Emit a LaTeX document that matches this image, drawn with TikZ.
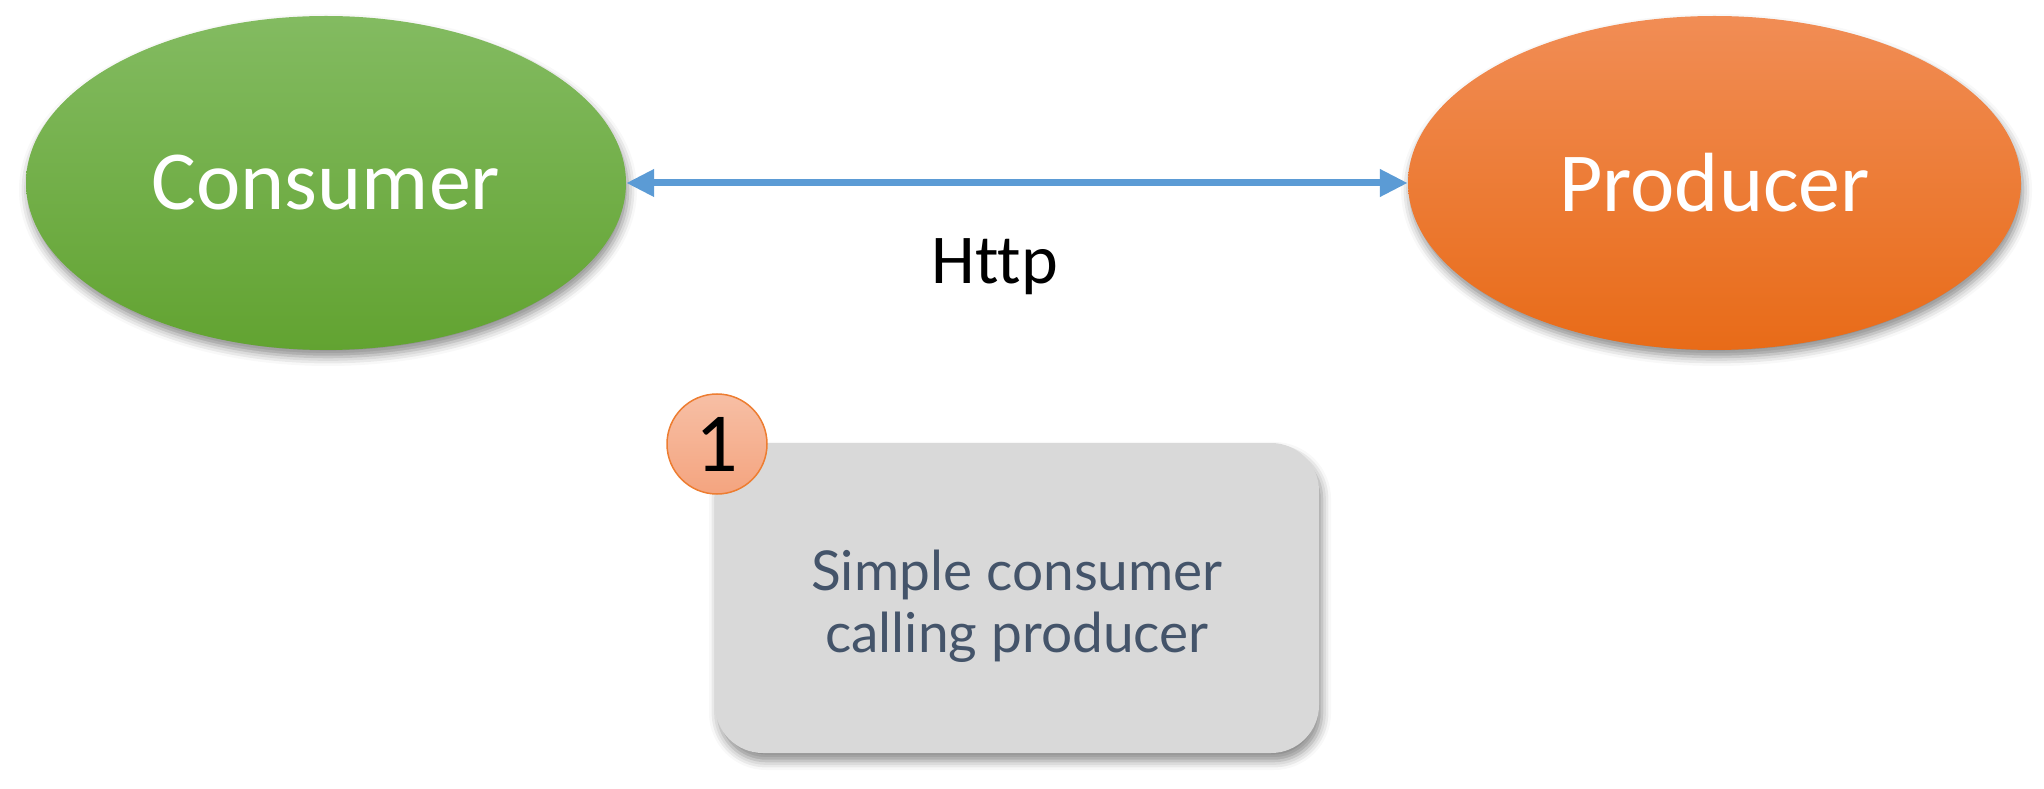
\documentclass[tikz,border=0pt]{standalone}
\usepackage{fontspec}
\setmainfont{Carlito}[Ligatures=NoCommon]
\newfontfamily\notefont{Lato}
\usetikzlibrary{shapes.geometric,shadows.blur,arrows.meta}

\definecolor{greentop}{HTML}{83BB61}
\definecolor{greenbot}{HTML}{62A331}
\definecolor{orangetop}{HTML}{F18D55}
\definecolor{orangebot}{HTML}{E86B18}
\definecolor{linkblue}{HTML}{5B9BD5}
\definecolor{notegray}{HTML}{D9D9D9}
\definecolor{notetext}{HTML}{44546A}
\definecolor{badgetop}{HTML}{F7BFA5}
\definecolor{badgebot}{HTML}{F4A47F}
\definecolor{badgeline}{HTML}{ED7D31}

\tikzset{
  service/.style = {ellipse, inner sep=0pt, text=white, font=\fontsize{84}{96}\selectfont,
    blur shadow={shadow xshift=2pt, shadow yshift=-7pt, shadow blur radius=9pt, shadow opacity=45}},
  notebox/.style = {rectangle, rounded corners=48pt, fill=notegray, inner sep=0pt,
    minimum width=604pt, minimum height=310pt,
    blur shadow={shadow xshift=3pt, shadow yshift=-8pt, shadow blur radius=9pt, shadow opacity=45}},
  notelabel/.style = {text=notetext, align=center, inner sep=0pt,
    font=\notefont\fontsize{55}{62}\selectfont},
  badge/.style = {circle, minimum size=100pt, inner sep=0pt, draw=badgeline, line width=1.5pt,
    top color=badgetop, bottom color=badgebot, font=\fontsize{84}{96}\selectfont},
  link/.style = {draw=linkblue, line width=7pt, {Triangle[length=28pt,width=26pt]}-{Triangle[length=28pt,width=26pt]}}
}

\begin{document}
\begin{tikzpicture}[x=1pt, y=1pt]

\useasboundingbox (0,0) rectangle (2044,788);

\node (consumer) [service, minimum width=600pt, minimum height=334pt,
  top color=greentop, bottom color=greenbot] at (326,605) {Consumer};
\node (producer) [service, minimum width=613pt, minimum height=334pt,
  top color=orangetop, bottom color=orangebot] at (1714.5,605) {Producer};

\draw [link] (consumer.east) -- (producer.west);
\node (http) at (995,521) {\fontsize{70}{80}\selectfont Http};

\node (note) [notebox] at (1017,190) {};
\node (notetxt) [notelabel] at (1017,182) {Simple consumer\\calling producer};
\node (step1) [badge] at (717,344) {1};

\end{tikzpicture}
\end{document}
